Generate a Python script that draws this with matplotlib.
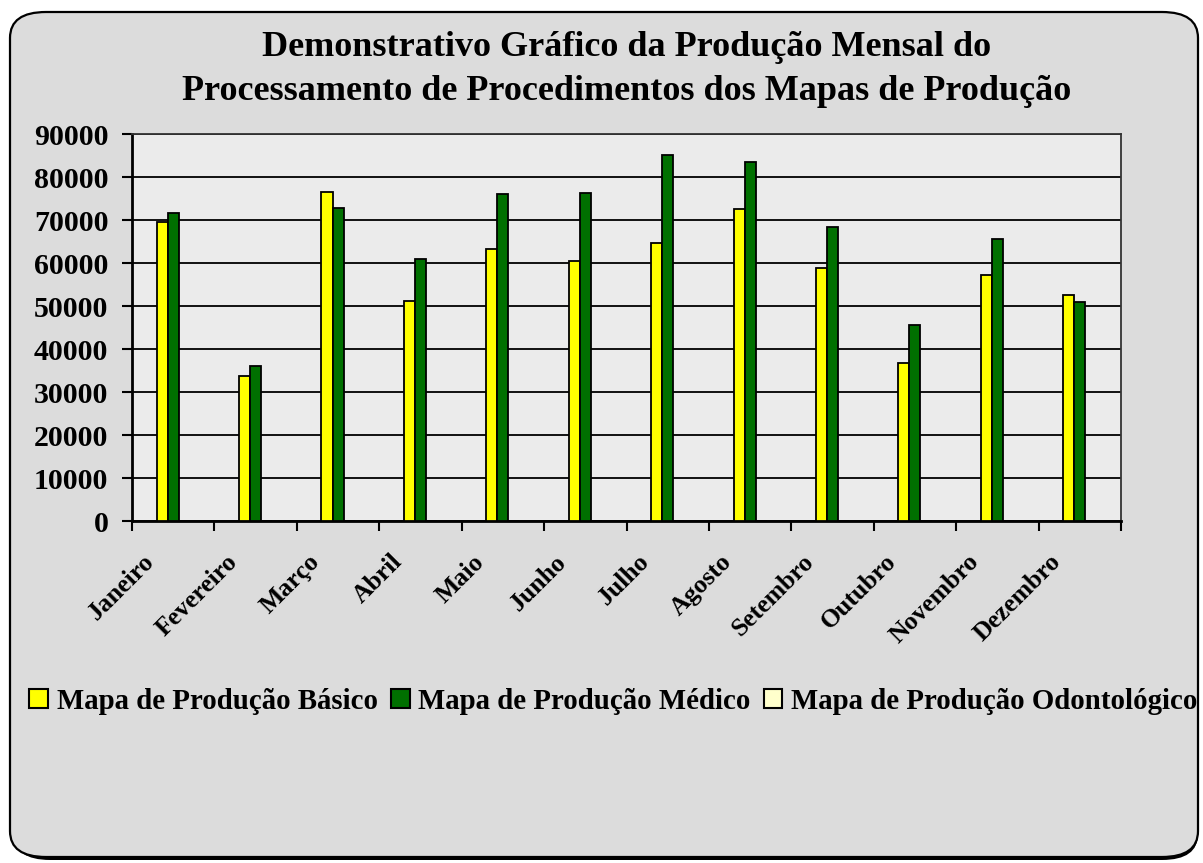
import matplotlib
matplotlib.use("Agg")
import matplotlib.pyplot as plt
import numpy as np
from matplotlib.patches import FancyBboxPatch, Patch
from matplotlib.transforms import ScaledTranslation

months = ["Janeiro", "Fevereiro", "Março", "Abril", "Maio", "Junho",
          "Julho", "Agosto", "Setembro", "Outubro", "Novembro", "Dezembro"]
basico = [69700, 33800, 76500, 51300, 63400, 60600, 64800, 72700, 58800, 36900, 57300, 52700]
medico = [71700, 36100, 72800, 61100, 76200, 76400, 85200, 83700, 68500, 45700, 65600, 50900]
odonto = [0] * 12
series_names = ["Mapa de Produção Básico", "Mapa de Produção Médico", "Mapa de Produção Odontológico"]
series_colors = ["#FFFF00", "#007000", "#FFFFCC"]
yticks = [0, 10000, 20000, 30000, 40000, 50000, 60000, 70000, 80000, 90000]

plt.rcParams['font.family'] = ['Liberation Serif', 'DejaVu Serif']
plt.rcParams['font.weight'] = 'bold'

W, H = 1203, 863
fig = plt.figure(figsize=(W / 100, H / 100), dpi=100)
fig.patch.set_facecolor("white")

# rounded frame with shadow
shadow = FancyBboxPatch((14 / W, 3 / H), (1198 - 14) / W, (851 - 3 - 2) / H,
                        boxstyle="round,pad=0,rounding_size=0.03", transform=fig.transFigure,
                        facecolor="black", edgecolor="black", lw=0, zorder=-3)
fig.patches.append(shadow)
frame = FancyBboxPatch((10 / W, 6 / H), (1198 - 10) / W, (851 - 6) / H,
                       boxstyle="round,pad=0,rounding_size=0.03", transform=fig.transFigure,
                       facecolor="#DCDCDC", edgecolor="black", lw=1.6, zorder=-2)
fig.patches.append(frame)

ax = fig.add_axes([132 / W, 1 - 521 / H, (1121 - 132) / W, (521 - 134.5) / H])
ax.set_facecolor("#EBEBEB")

x = np.arange(len(months))
bw = 0.134
for i, (vals, col, name) in enumerate(zip([basico, medico, odonto], series_colors, series_names)):
    ax.bar(x + (i - 1) * bw, vals, width=bw, color=col, edgecolor="black", linewidth=1.3,
           label=name, zorder=3)

ax.set_xlim(-0.5, len(months) - 0.5)
ax.set_ylim(0, 90000)
ax.set_yticks(yticks)
ax.set_yticklabels([str(v) for v in yticks], fontsize=21.5, fontweight="bold")
ax.yaxis.grid(True, color="black", linewidth=1.3, zorder=1)
ax.set_axisbelow(True)

ax.set_xticks(np.arange(len(months) + 1) - 0.5)
ax.set_xticklabels([])
ax.set_xticks(x, minor=True)
ax.set_xticklabels(months, minor=True, rotation=45, ha="right", fontsize=18.5, fontweight="bold")
ax.tick_params(axis="x", which="minor", length=0, pad=21)
ax.tick_params(axis="x", which="major", length=7, width=1.5, direction="out")
ax.tick_params(axis="y", length=7, width=1.5, direction="out", pad=10)
for lab in ax.get_xticklabels(minor=True):
    lab.set_transform(lab.get_transform() + ScaledTranslation(-0.14, 0, fig.dpi_scale_trans))

for s in ["left", "bottom"]:
    ax.spines[s].set_linewidth(2)
for s in ["top", "right"]:
    ax.spines[s].set_linewidth(1.3)
    ax.spines[s].set_color("#333333")

fig.text(626.5 / W, 1 - 69.5 / H,
         "Demonstrativo Gráfico da Produção Mensal do\nProcessamento de Procedimentos dos Mapas de Produção",
         ha="center", va="center", fontsize=26, fontweight="bold", linespacing=1.42)

handles = [Patch(facecolor=c, edgecolor="black", linewidth=1.5) for c in series_colors]
fig.legend(handles, series_names, loc="center", bbox_to_anchor=((30 + 1197) / 2 / W, 1 - 701 / H),
           ncol=3, frameon=False, handlelength=0.65, handleheight=0.65,
           handletextpad=0.3, columnspacing=0.45, prop={"weight": "bold", "size": 20.8})

fig.savefig("out.png", dpi=100)
